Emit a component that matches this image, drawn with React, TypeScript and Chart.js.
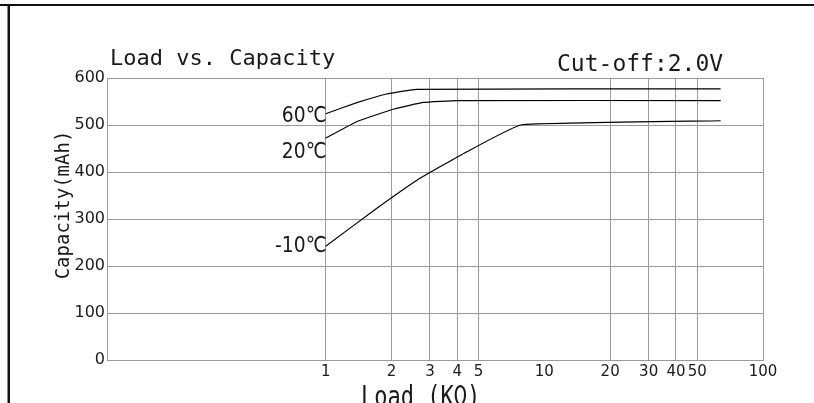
import React, { useEffect, useRef } from "react";
import { Chart, registerables } from "chart.js";

Chart.register(...registerables);

// Load (KΩ) vs capacity (mAh)
const loads60 = [1, 1.4, 1.9, 2.6, 64];
const cap60 = [524, 548, 566, 576, 577];
const loads20 = [1, 1.4, 2.05, 2.8, 4.0, 64];
const cap20 = [472, 508, 534, 548, 552, 552];
const loadsM10 = [1, 1.66, 2.71, 4.3, 7.8, 64];
const capM10 = [242, 318, 387, 440, 500, 509];

const seriesNames = ["60℃", "20℃", "-10℃"];
const xTickValues = [1, 2, 3, 4, 5, 10, 20, 30, 40, 50, 100];
const yTickValues = [0, 100, 200, 300, 400, 500, 600];

const chartTitle = "Load vs. Capacity";
const cutoffText = "Cut-off:2.0V";
const yTitle = "Capacity(mAh)";
const xTitle = "Load (KΩ)";

const GRID = "#9a9a9a";
const INK = "#1a1a1a";

function toPoints(xs: number[], ys: number[]) {
  return xs.map((x, i) => ({ x, y: ys[i] }));
}

export default function App() {
  const ref = useRef<HTMLCanvasElement | null>(null);

  useEffect(() => {
    const canvas = ref.current;
    if (!canvas) return;

    const labelAnchors = [518, 443, 243];

    const decor = {
      id: "decor",
      beforeDraw(chart: any) {
        const ctx = chart.ctx;
        ctx.save();
        ctx.fillStyle = "#ffffff";
        ctx.fillRect(0, 0, chart.width, chart.height);
        ctx.fillStyle = "#111";
        ctx.fillRect(0, 4, chart.width, 2);
        ctx.fillRect(7.5, 4, 2.5, chart.height);
        ctx.restore();
      },
      afterDraw(chart: any) {
        const ctx = chart.ctx;
        const xs = chart.scales.x;
        const ys = chart.scales.y;
        ctx.save();
        ctx.fillStyle = INK;
        ctx.textBaseline = "alphabetic";
        ctx.textAlign = "left";
        ctx.font = "22px 'DejaVu Sans Mono'";
        ctx.fillText(chartTitle, 110, 65);
        ctx.font = "23px 'DejaVu Sans Mono'";
        ctx.fillText(cutoffText, 557, 70.5);
        // x title (partly cut off at the bottom edge, as in the reference)
        ctx.save();
        ctx.translate(361, 406);
        ctx.scale(1, 1.3);
        ctx.font = "22px 'DejaVu Sans Mono'";
        ctx.fillText(xTitle, 0, 0);
        ctx.restore();
        // y title
        ctx.save();
        ctx.translate(69, 205);
        ctx.rotate(-Math.PI / 2);
        ctx.textAlign = "center";
        ctx.font = "19px 'DejaVu Sans Mono'";
        ctx.fillText(yTitle, 0, 0);
        ctx.restore();
        // series labels
        const x1 = xs.getPixelForValue(1);
        seriesNames.forEach((n, i) => {
          ctx.save();
          ctx.translate(x1 + 1, ys.getPixelForValue(labelAnchors[i]));
          ctx.scale(0.85, 1);
          ctx.textAlign = "right";
          ctx.textBaseline = "middle";
          ctx.font = "22px 'DejaVu Sans'";
          ctx.fillText(n, 0, 0);
          ctx.restore();
        });
        ctx.restore();
      },
    };

    const lineDs = (label: string, xs: number[], ys: number[]) => ({
      label,
      data: toPoints(xs, ys),
      borderColor: "#000",
      borderWidth: 1.2,
      pointRadius: 0,
      tension: 0.1,
      fill: false,
    });

    const chart = new Chart(canvas, {
      type: "line",
      data: {
        datasets: [
          lineDs(seriesNames[0], loads60, cap60),
          lineDs(seriesNames[1], loads20, cap20),
          lineDs(seriesNames[2], loadsM10, capM10),
        ],
      },
      options: {
        animation: false,
        responsive: false,
        layout: { padding: { left: 0, top: 78, right: 51, bottom: 0 } },
        plugins: { legend: { display: false }, tooltip: { enabled: false } },
        scales: {
          x: {
            type: "logarithmic",
            min: 0.1,
            max: 100,
            afterFit(scale: any) {
              scale.height = 43;
            },
            afterBuildTicks(scale: any) {
              scale.ticks = xTickValues.map((v) => ({ value: v }));
            },
            ticks: {
              autoSkip: false,
              maxRotation: 0,
              padding: 3,
              color: INK,
              font: { family: "DejaVu Sans", size: 15 },
              callback: (v: any) => String(v),
            },
            grid: {
              drawTicks: false,
              color: (c: any) => (c.tick && c.tick.value === 10 ? "rgba(0,0,0,0)" : GRID),
              lineWidth: 1,
            },
            border: { display: true, color: GRID, width: 1 },
          },
          y: {
            min: 0,
            max: 600,
            afterFit(scale: any) {
              scale.width = 107;
            },
            afterBuildTicks(scale: any) {
              scale.ticks = yTickValues.map((v) => ({ value: v }));
            },
            ticks: {
              padding: 2,
              color: INK,
              font: { family: "DejaVu Sans", size: 16 },
            },
            grid: { drawTicks: false, color: GRID, lineWidth: 1 },
            border: { display: true, color: GRID, width: 1 },
          },
        },
      },
      plugins: [decor],
    } as any);

    return () => chart.destroy();
  }, []);

  return (
    <div style={{ position: "fixed", left: 0, top: 0, width: 814, height: 403 }}>
      <canvas ref={ref} width={814} height={403} style={{ display: "block" }} />
    </div>
  );
}
